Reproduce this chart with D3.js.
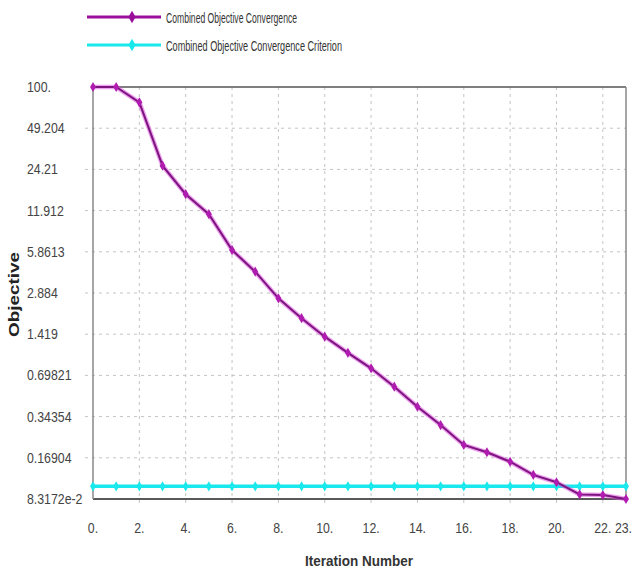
<!DOCTYPE html>
<html><head><meta charset="utf-8">
<script src="https://cdn.jsdelivr.net/npm/d3@7"></script>
<style>
html,body{margin:0;padding:0;background:#fff;}
text{font-family:"Liberation Sans",Arial,sans-serif;}
</style></head>
<body><svg id="c" width="633" height="575"></svg>
<script>
const iterations = d3.range(0, 24);
const objective = [100, 100, 76.8, 25.8, 15.8, 11.2, 6.04, 4.16, 2.63, 1.87, 1.36, 1.03, 0.789, 0.575, 0.407, 0.297, 0.211, 0.186, 0.158, 0.126, 0.111, 0.090, 0.089, 0.0832];
const criterion = 0.1035;
const yTickValues = [100, 49.204, 24.21, 11.912, 5.8613, 2.884, 1.419, 0.69821, 0.34354, 0.16904, 0.083172];
const yTickLabels = ["100.", "49.204", "24.21", "11.912", "5.8613", "2.884", "1.419", "0.69821", "0.34354", "0.16904", "8.3172e-2"];
const xTickValues = [0, 2, 4, 6, 8, 10, 12, 14, 16, 18, 20, 22, 23];
const xTickLabels = ["0.", "2.", "4.", "6.", "8.", "10.", "12.", "14.", "16.", "18.", "20.", "22.", "23."];
const seriesNames = ["Combined Objective Convergence", "Combined Objective Convergence Criterion"];
const seriesColors = ["#9a0f9a", "#19e8ec"];

const svg = d3.select("#c");
const L = 93, R = 626, T = 87, B = 499;
const x = d3.scaleLinear().domain([0, 23]).range([L, R]);
const y = d3.scaleLog().domain([0.083172, 100]).range([B, T]);
const SX = 0.88;

// grid
const grid = svg.append("g");
grid.selectAll("line.v").data(xTickValues.slice(1, -1)).join("line")
  .attr("x1", d => x(d)).attr("x2", d => x(d)).attr("y1", T).attr("y2", B + 8)
  .attr("stroke", "#c4c4c4").attr("stroke-dasharray", "3,4").attr("stroke-width", 1);
grid.selectAll("line.h").data(yTickValues.slice(1, -1)).join("line")
  .attr("y1", d => y(d)).attr("y2", d => y(d)).attr("x1", L - 8).attr("x2", R)
  .attr("stroke", "#c4c4c4").attr("stroke-dasharray", "3,4").attr("stroke-width", 1);

// frame
svg.append("line").attr("x1", L).attr("x2", R).attr("y1", T).attr("y2", T).attr("stroke", "#555").attr("stroke-width", 1.5);
svg.append("line").attr("x1", L).attr("x2", R).attr("y1", B).attr("y2", B).attr("stroke", "#222").attr("stroke-width", 1.5);
svg.append("line").attr("x1", L).attr("x2", L).attr("y1", T).attr("y2", B).attr("stroke", "#888").attr("stroke-width", 1.5);
svg.append("line").attr("x1", R).attr("x2", R).attr("y1", T).attr("y2", B).attr("stroke", "#888").attr("stroke-width", 1.5);

// y axis labels
svg.append("g").selectAll("text").data(yTickValues).join("text")
  .attr("transform", d => `translate(27,${y(d) + 5}) scale(${SX},1)`)
  .attr("font-size", 14).attr("fill", "#444")
  .text((d, i) => yTickLabels[i]);
// x axis labels
svg.append("g").selectAll("text").data(xTickValues).join("text")
  .attr("transform", d => `translate(${d === 23 ? 632 : x(d)},533) scale(${SX},1)`)
  .attr("text-anchor", d => d === 23 ? "end" : "middle")
  .attr("font-size", 14).attr("fill", "#444")
  .text((d, i) => xTickLabels[i]);

// titles
svg.append("text").attr("x", 305).attr("y", 566)
  .attr("textLength", 108).attr("lengthAdjust", "spacingAndGlyphs")
  .attr("font-size", 15).attr("font-weight", "bold").attr("fill", "#333").text("Iteration Number");
svg.append("text").attr("transform", "translate(19,337) rotate(-90)")
  .attr("textLength", 85).attr("lengthAdjust", "spacingAndGlyphs")
  .attr("font-size", 15).attr("font-weight", "bold").attr("fill", "#222").text("Objective");

const diamond = d3.symbol().type(d3.symbolDiamond).size(30);

// criterion series
const critData = iterations.map(i => ({i, v: criterion}));
const line = d3.line().x(d => x(d.i)).y(d => y(d.v));
svg.append("path").datum(critData).attr("d", line).attr("fill", "none")
  .attr("stroke", seriesColors[1]).attr("stroke-width", 3.5);
svg.append("g").selectAll("path").data(critData).join("path")
  .attr("d", diamond).attr("transform", d => `translate(${x(d.i)},${y(d.v)})`).attr("fill", seriesColors[1]);

// objective series
const objData = iterations.map(i => ({i, v: objective[i]}));
svg.append("path").datum(objData).attr("d", line).attr("fill", "none")
  .attr("stroke", "#e050e0").attr("stroke-width", 4.5).attr("opacity", 0.55);
svg.append("path").datum(objData).attr("d", line).attr("fill", "none")
  .attr("stroke", "#7d1480").attr("stroke-width", 2);
svg.append("g").selectAll("path").data(objData).join("path")
  .attr("d", diamond).attr("transform", d => `translate(${x(d.i)},${y(d.v)})`).attr("fill", "#b01cb0");

// legend
const lg = svg.append("g");
const legendWidths = [131, 176];
seriesNames.forEach((n, k) => {
  const ly = 17 + k * 28;
  lg.append("line").attr("x1", 87).attr("x2", 161).attr("y1", ly).attr("y2", ly)
    .attr("stroke", seriesColors[k]).attr("stroke-width", 3);
  lg.append("path").attr("d", d3.symbol().type(d3.symbolDiamond).size(45)).attr("transform", `translate(132,${ly})`).attr("fill", seriesColors[k]);
  lg.append("text").attr("x", 166).attr("y", ly + 5.5)
    .attr("textLength", legendWidths[k]).attr("lengthAdjust", "spacingAndGlyphs")
    .attr("font-size", 15.5).attr("fill", "#333").text(n);
});
</script></body></html>
